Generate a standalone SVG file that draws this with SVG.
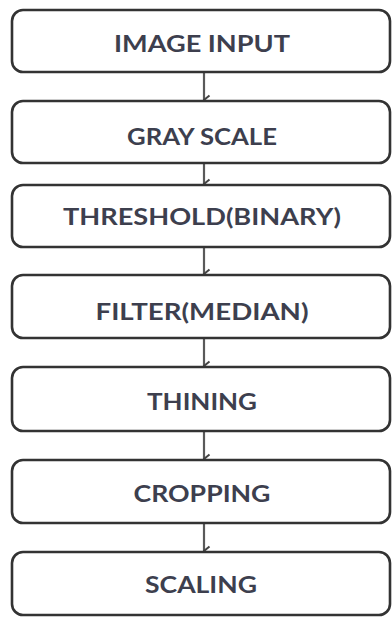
<svg xmlns="http://www.w3.org/2000/svg" width="392" height="617" viewBox="0 0 392 617">
<defs>
<marker id="ah" markerWidth="12" markerHeight="9" refX="6" refY="8" orient="auto" markerUnits="userSpaceOnUse" viewBox="0 0 12 9">
<path d="M1.5,2.5 L6,8 L10.5,2.5" fill="none" stroke="#444" stroke-width="2"/>
</marker>
<style>
.box{fill:#fff;stroke:#333;stroke-width:2.6}
.lbl{font-family:Lato,"Open Sans","Liberation Sans",sans-serif;font-weight:700;font-size:23.5px;fill:#3d3f4e;text-anchor:middle}
.arr{stroke:#5a5a5a;stroke-width:2.2;fill:none;marker-end:url(#ah)}
</style>
</defs>
<rect width="392" height="617" fill="#fff"/>
<g id="connectors">
<line class="arr" x1="204" y1="73" x2="204" y2="100"/>
<line class="arr" x1="204" y1="164" x2="204" y2="184"/>
<line class="arr" x1="204" y1="248" x2="204" y2="274"/>
<line class="arr" x1="204" y1="339" x2="204" y2="366"/>
<line class="arr" x1="204" y1="432" x2="204" y2="459"/>
<line class="arr" x1="204" y1="524" x2="204" y2="551"/>
</g>
<g id="n1"><rect class="box" x="12" y="10" width="378" height="62" rx="11"/><text class="lbl" x="202" y="52" textLength="176" lengthAdjust="spacingAndGlyphs">IMAGE INPUT</text></g>
<g id="n2"><rect class="box" x="12" y="101" width="378" height="62" rx="11"/><text class="lbl" x="202" y="145" textLength="150" lengthAdjust="spacingAndGlyphs">GRAY SCALE</text></g>
<g id="n3"><rect class="box" x="12" y="185" width="378" height="62" rx="11"/><text class="lbl" x="202" y="225" textLength="278" lengthAdjust="spacingAndGlyphs">THRESHOLD(BINARY)</text></g>
<g id="n4"><rect class="box" x="12" y="275" width="378" height="63" rx="11"/><text class="lbl" x="202" y="320" textLength="213" lengthAdjust="spacingAndGlyphs">FILTER(MEDIAN)</text></g>
<g id="n5"><rect class="box" x="12" y="367" width="378" height="64" rx="11"/><text class="lbl" x="202" y="410" textLength="110" lengthAdjust="spacingAndGlyphs">THINING</text></g>
<g id="n6"><rect class="box" x="12" y="460" width="378" height="63" rx="11"/><text class="lbl" x="202" y="502" textLength="137" lengthAdjust="spacingAndGlyphs">CROPPING</text></g>
<g id="n7"><rect class="box" x="12" y="552" width="378" height="63" rx="11"/><text class="lbl" x="201" y="593" textLength="112" lengthAdjust="spacingAndGlyphs">SCALING</text></g>
</svg>
